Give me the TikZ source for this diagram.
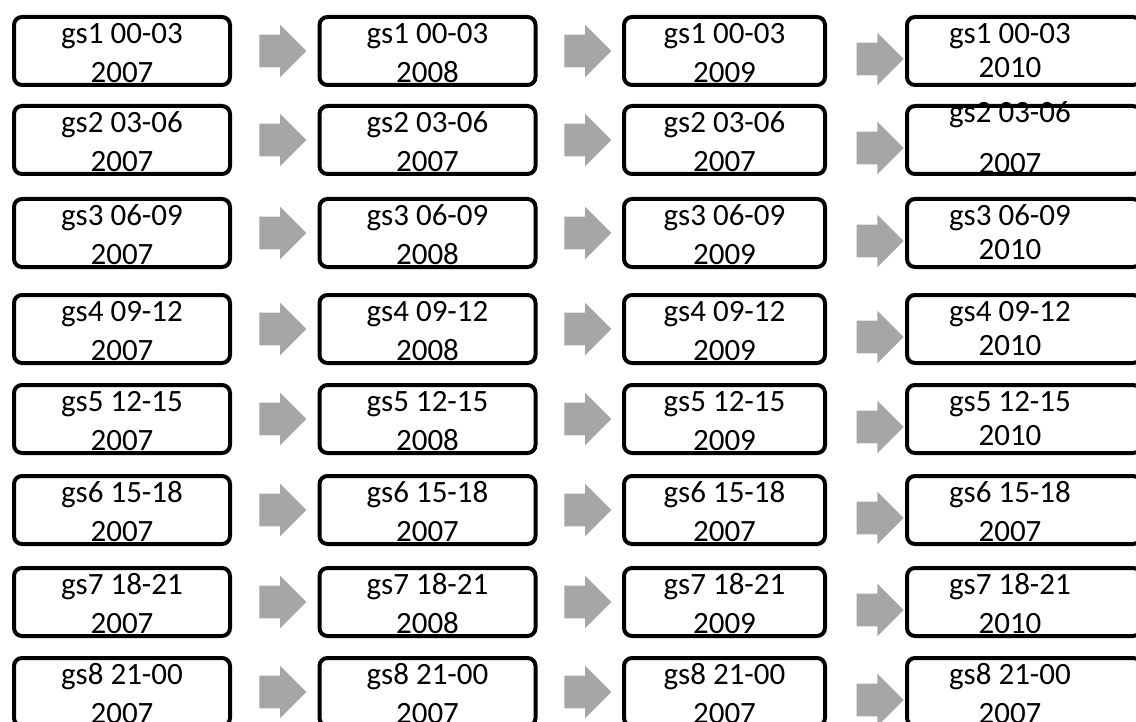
\documentclass[tikz,border=0pt]{standalone}
\usepackage{fontspec}
\setmainfont{Carlito}
\usepackage{tikz}
\usetikzlibrary{shapes.arrows, positioning, calc}
\definecolor{Slot_Black}{HTML}{000000}
\definecolor{Slot_Gray}{HTML}{A6A6A6}
\newcommand{\rpad}{\hspace*{14pt}}

\begin{document}
\begin{tikzpicture}[
    x=0.5pt, y=-0.5pt,
    slot/.style={draw=Slot_Black, line width=2pt, rounded corners=4pt, minimum width=108pt, minimum height=34pt, inner sep=0pt, align=center, font=\fontsize{15.5}{19.5}\selectfont, text height=31.5pt, text depth=0pt, anchor=center},
    slotn/.style={slot, minimum width=100.5pt},
    slote/.style={slot, minimum width=117pt},
    tight/.style={text height=26.5pt},
    lift/.style={text height=34pt},
    flow/.style={single arrow, fill=Slot_Gray, draw=none, minimum height=23.5pt, inner xsep=0pt, inner ysep=8pt, single arrow head extend=5pt}
]
\useasboundingbox (0,0) rectangle (1136,722);
% column 1
\node[slot] (c1r1) at (122, 51) {gs1 00-03\\2007};
\node[slot] (c1r2) at (122, 140) {gs2 03-06\\2007};
\node[slot] (c1r3) at (122, 233) {gs3 06-09\\2007};
\node[slot] (c1r4) at (122, 329) {gs4 09-12\\2007};
\node[slot] (c1r5) at (122, 419) {gs5 12-15\\2007};
\node[slot] (c1r6) at (122, 510) {gs6 15-18\\2007};
\node[slot] (c1r7) at (122, 602) {gs7 18-21\\2007};
\node[slot] (c1r8) at (122, 692) {gs8 21-00\\2007};
% column 2
\node[slot] (c2r1) at (427.5, 51) {gs1 00-03\\2008};
\node[slot] (c2r2) at (427.5, 140) {gs2 03-06\\2007};
\node[slot] (c2r3) at (427.5, 233) {gs3 06-09\\2008};
\node[slot] (c2r4) at (427.5, 329) {gs4 09-12\\2008};
\node[slot] (c2r5) at (427.5, 419) {gs5 12-15\\2008};
\node[slot] (c2r6) at (427.5, 510) {gs6 15-18\\2007};
\node[slot] (c2r7) at (427.5, 602) {gs7 18-21\\2008};
\node[slot] (c2r8) at (427.5, 692) {gs8 21-00\\2007};
% column 3
\node[slotn] (c3r1) at (724.5, 51) {gs1 00-03\\2009};
\node[slotn] (c3r2) at (724.5, 140) {gs2 03-06\\2007};
\node[slotn] (c3r3) at (724.5, 233) {gs3 06-09\\2009};
\node[slotn] (c3r4) at (724.5, 329) {gs4 09-12\\2009};
\node[slotn] (c3r5) at (724.5, 419) {gs5 12-15\\2009};
\node[slotn] (c3r6) at (724.5, 510) {gs6 15-18\\2007};
\node[slotn] (c3r7) at (724.5, 602) {gs7 18-21\\2009};
\node[slotn] (c3r8) at (724.5, 692) {gs8 21-00\\2007};
% column 4 (runs off the right edge)
\node[slote, tight] (c4r1) at (1024, 51) {gs1 00-03\rpad\\[-2.5pt]2010\rpad};
\node[slote, lift] (c4r2) at (1024, 140) {gs2 03-06\rpad\\[6pt]2007\rpad};
\node[slote, tight] (c4r3) at (1024, 233) {gs3 06-09\rpad\\[-2.5pt]2010\rpad};
\node[slote, tight] (c4r4) at (1024, 329) {gs4 09-12\rpad\\[-2.5pt]2010\rpad};
\node[slote, tight] (c4r5) at (1024, 419) {gs5 12-15\rpad\\[-2.5pt]2010\rpad};
\node[slote] (c4r6) at (1024, 510) {gs6 15-18\rpad\\2007\rpad};
\node[slote] (c4r7) at (1024, 602) {gs7 18-21\rpad\\2010\rpad};
\node[slote] (c4r8) at (1024, 692) {gs8 21-00\rpad\\2007\rpad};
% arrows
\node[flow] (a1r1) at ($(c1r1.east)!0.5!(c2r1.west)$) {};
\node[flow] (a1r2) at ($(c1r2.east)!0.5!(c2r2.west)$) {};
\node[flow] (a1r3) at ($(c1r3.east)!0.5!(c2r3.west)$) {};
\node[flow] (a1r4) at ($(c1r4.east)!0.5!(c2r4.west)$) {};
\node[flow] (a1r5) at ($(c1r5.east)!0.5!(c2r5.west)$) {};
\node[flow] (a1r6) at ($(c1r6.east)!0.5!(c2r6.west)$) {};
\node[flow] (a1r7) at ($(c1r7.east)!0.5!(c2r7.west)$) {};
\node[flow] (a1r8) at ($(c1r8.east)!0.5!(c2r8.west)$) {};
\node[flow] (a2r1) at ($(c2r1.east)!0.5!(c3r1.west)$) {};
\node[flow] (a2r2) at ($(c2r2.east)!0.5!(c3r2.west)$) {};
\node[flow] (a2r3) at ($(c2r3.east)!0.5!(c3r3.west)$) {};
\node[flow] (a2r4) at ($(c2r4.east)!0.5!(c3r4.west)$) {};
\node[flow] (a2r5) at ($(c2r5.east)!0.5!(c3r5.west)$) {};
\node[flow] (a2r6) at ($(c2r6.east)!0.5!(c3r6.west)$) {};
\node[flow] (a2r7) at ($(c2r7.east)!0.5!(c3r7.west)$) {};
\node[flow] (a2r8) at ($(c2r8.east)!0.5!(c3r8.west)$) {};
\node[flow, xshift=3pt, yshift=-4pt] (a3r1) at ($(c3r1.east)!0.5!(c4r1.west)$) {};
\node[flow, xshift=3pt, yshift=-4pt] (a3r2) at ($(c3r2.east)!0.5!(c4r2.west)$) {};
\node[flow, xshift=3pt, yshift=-4pt] (a3r3) at ($(c3r3.east)!0.5!(c4r3.west)$) {};
\node[flow, xshift=3pt, yshift=-4pt] (a3r4) at ($(c3r4.east)!0.5!(c4r4.west)$) {};
\node[flow, xshift=3pt, yshift=-4pt] (a3r5) at ($(c3r5.east)!0.5!(c4r5.west)$) {};
\node[flow, xshift=3pt, yshift=-4pt] (a3r6) at ($(c3r6.east)!0.5!(c4r6.west)$) {};
\node[flow, xshift=3pt, yshift=-4pt] (a3r7) at ($(c3r7.east)!0.5!(c4r7.west)$) {};
\node[flow, xshift=3pt, yshift=-4pt] (a3r8) at ($(c3r8.east)!0.5!(c4r8.west)$) {};
\end{tikzpicture}
\end{document}
